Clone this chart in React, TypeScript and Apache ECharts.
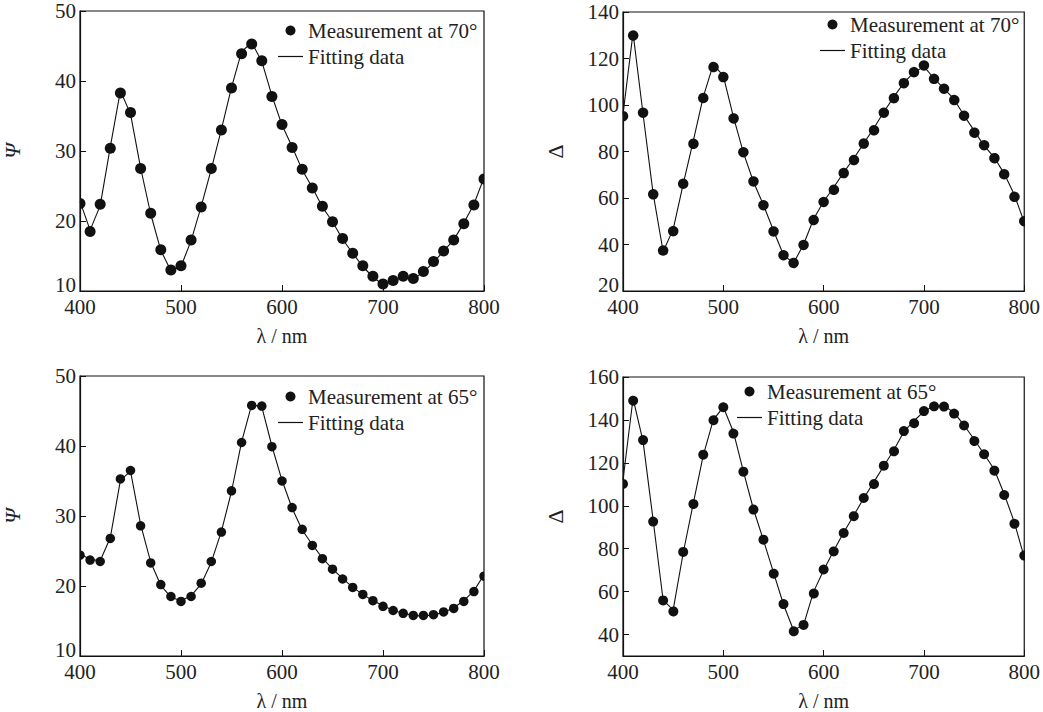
import React, { useEffect, useRef } from "react";
import * as echarts from "echarts";

const wavelengths = [
  400, 410, 420, 430, 440, 450, 460, 470, 480, 490, 500, 510, 520, 530, 540, 550, 560, 570, 580, 590, 600,
  610, 620, 630, 640, 650, 660, 670, 680, 690, 700, 710, 720, 730, 740, 750, 760, 770, 780, 790, 800,
];

const psi70Measured = [
  22.5, 18.5, 22.4, 30.4, 38.3, 35.5, 27.5, 21.1, 15.9, 13.0, 13.6, 17.3, 22.0, 27.5, 33.0, 39.0, 43.9, 45.3, 42.9, 37.8, 33.8,
  30.5, 27.4, 24.7, 22.1, 19.9, 17.5, 15.4, 13.6, 12.1, 11.0, 11.5, 12.1, 11.8, 12.8, 14.2, 15.7, 17.3, 19.6, 22.3, 26.0,
];
const psi70Fit = [
  22.8, 18.7, 22.2, 30.6, 38.6, 35.3, 27.6, 21.0, 15.8, 12.9, 13.5, 17.2, 22.1, 27.4, 33.1, 39.1, 44.2, 45.5, 42.8, 37.9, 33.7,
  30.6, 27.3, 24.8, 22.0, 19.9, 17.4, 15.4, 13.5, 12.0, 10.9, 11.4, 12.0, 11.7, 12.7, 14.1, 15.7, 17.3, 19.7, 22.4, 26.2,
];

const delta70Measured = [
  95.2, 130.4, 96.7, 62.1, 37.4, 46.1, 66.1, 84.0, 103.0, 117.0, 112.0, 94.9, 79.7, 67.5, 56.9, 46.0, 35.4, 32.4, 39.8, 50.9, 58.3,
  64.2, 70.7, 77.0, 83.4, 89.8, 96.7, 103.3, 109.4, 114.5, 117.0, 111.6, 107.0, 102.8, 95.4, 88.8, 82.7, 77.8, 70.2, 61.2, 50.0,
];
const delta70Fit = [
  96.0, 131.0, 96.0, 62.0, 37.0, 46.5, 66.0, 84.5, 103.5, 117.5, 112.5, 95.0, 79.5, 67.0, 57.0, 46.0, 35.5, 32.0, 40.0, 51.0, 58.5,
  64.5, 71.0, 77.0, 83.5, 90.0, 97.0, 103.5, 109.5, 114.0, 116.5, 111.5, 107.0, 102.5, 95.5, 89.0, 82.5, 77.5, 70.5, 61.5, 49.5,
];

const psi65Measured = [
  24.4, 23.7, 23.5, 26.8, 35.3, 36.5, 28.6, 23.3, 20.2, 18.5, 17.8, 18.5, 20.4, 23.5, 27.7, 33.6, 40.5, 45.8, 45.7, 39.9, 35.0,
  31.2, 28.1, 25.8, 23.9, 22.4, 21.0, 19.8, 18.8, 17.9, 17.1, 16.5, 16.1, 15.8, 15.8, 15.9, 16.3, 16.8, 17.8, 19.2, 21.4,
];
const psi65Fit = [
  24.6, 23.8, 23.6, 26.9, 35.1, 36.4, 28.8, 23.4, 20.1, 18.4, 17.9, 18.6, 20.3, 23.4, 27.8, 33.5, 40.6, 45.9, 45.6, 40.0, 35.1,
  31.1, 28.0, 25.9, 24.0, 22.4, 21.1, 19.8, 18.8, 17.9, 17.2, 16.5, 16.1, 15.8, 15.7, 15.9, 16.2, 16.9, 17.9, 19.3, 21.6,
];

const delta65Measured = [
  110.2, 149.5, 130.6, 93.0, 55.9, 51.4, 78.5, 101.5, 123.8, 140.5, 145.9, 134.0, 115.9, 98.6, 84.2, 69.1, 54.2, 42.2, 44.5, 59.8, 70.3,
  79.1, 87.3, 95.5, 103.6, 110.8, 118.7, 126.0, 134.8, 139.1, 144.1, 146.7, 146.2, 143.3, 137.4, 130.9, 124.0, 117.0, 105.0, 92.3, 76.8,
];
const delta65Fit = [
  112.0, 150.0, 130.0, 93.5, 56.0, 51.5, 78.0, 101.0, 123.5, 140.0, 146.0, 134.5, 116.0, 98.5, 84.0, 69.0, 54.0, 42.0, 44.5, 60.0, 70.0,
  79.0, 87.5, 95.5, 103.5, 111.0, 118.5, 126.0, 134.5, 139.5, 144.0, 146.5, 146.5, 143.5, 137.5, 131.0, 124.0, 117.0, 105.5, 92.5, 76.0,
];

const xTickValues = [400, 500, 600, 700, 800];
const delta65TickValues = [40, 60, 80, 100, 120, 140, 160];

const FONT = "'Liberation Serif', 'DejaVu Serif', serif";
const TEXT = "#222";
const INK = "#111";
const LABEL_SIZE = 21;

const pairs = (ys: number[]) => wavelengths.map((w, i) => [w, ys[i]]);

type Panel = {
  grid: { left: number; top: number; width: number; height: number };
  yName: string;
  yItalic: boolean;
  yMin: number;
  yMax: number;
  yInterval: number;
  yCustom?: number[];
  yLowLabel: number;
  measured: number[];
  fit: number[];
  label: string;
  symbolSize: number;
  legend: { left: number; top: number };
};

const panels: Panel[] = [
  {
    grid: { left: 80, top: 11, width: 404, height: 280 },
    yName: "Ψ", yItalic: true, yMin: 10, yMax: 50, yInterval: 10, yLowLabel: 10,
    measured: psi70Measured, fit: psi70Fit, label: "Measurement at 70°", symbolSize: 11,
    legend: { left: 278, top: 20 },
  },
  {
    grid: { left: 623, top: 12, width: 403, height: 279 },
    yName: "Δ", yItalic: false, yMin: 20, yMax: 140, yInterval: 20, yLowLabel: 20,
    measured: delta70Measured, fit: delta70Fit, label: "Measurement at 70°", symbolSize: 10.5,
    legend: { left: 820, top: 14 },
  },
  {
    grid: { left: 80, top: 376, width: 404, height: 280 },
    yName: "Ψ", yItalic: true, yMin: 10, yMax: 50, yInterval: 10, yLowLabel: 10,
    measured: psi65Measured, fit: psi65Fit, label: "Measurement at 65°", symbolSize: 9.5,
    legend: { left: 278, top: 386 },
  },
  {
    grid: { left: 623, top: 377, width: 403, height: 279 },
    yName: "Δ", yItalic: false, yMin: 30, yMax: 160, yInterval: 10, yCustom: delta65TickValues, yLowLabel: -1,
    measured: delta65Measured, fit: delta65Fit, label: "Measurement at 65°", symbolSize: 10,
    legend: { left: 737, top: 381 },
  },
];

const LINE_ICON = "path://M0,0H25V1.2H0Z";

export default function App() {
  const ref = useRef<HTMLDivElement>(null);
  useEffect(() => {
    if (!ref.current) return;
    const chart = echarts.init(ref.current, undefined, { renderer: "svg" });
    const option: any = {
      animation: false,
      backgroundColor: "#fff",
      textStyle: { fontFamily: FONT, color: TEXT },
      grid: panels.map((p) => ({
        ...p.grid,
        show: true,
        borderColor: INK,
        borderWidth: 1.2,
        backgroundColor: "transparent",
        containLabel: false,
      })),
      xAxis: panels.map((_, i) => ({
        type: "value",
        gridIndex: i,
        min: 400,
        max: 800,
        interval: 100,
        name: "λ / nm",
        nameLocation: "middle",
        nameGap: 35,
        nameTextStyle: { fontFamily: FONT, fontSize: 20, color: TEXT },
        axisLine: { show: true, lineStyle: { color: INK, width: 1.2 } },
        axisTick: { show: true, inside: true, length: 6, lineStyle: { color: INK, width: 1 }, customValues: xTickValues },
        axisLabel: { fontFamily: FONT, fontSize: LABEL_SIZE, color: TEXT, margin: 5, customValues: xTickValues },
        splitLine: { show: false },
      })),
      yAxis: panels.map((p, i) => ({
        type: "value",
        gridIndex: i,
        min: p.yMin,
        max: p.yMax,
        interval: p.yInterval,
        name: p.yName,
        nameLocation: "middle",
        nameRotate: 90,
        nameGap: 57,
        nameTextStyle: {
          fontFamily: FONT,
          fontSize: 22,
          color: TEXT,
          fontStyle: p.yItalic ? "italic" : "normal",
        },
        axisLine: { show: true, lineStyle: { color: INK, width: 1.2 } },
        axisTick: {
          show: true,
          inside: true,
          length: 6,
          lineStyle: { color: INK, width: 1 },
          ...(p.yCustom ? { customValues: p.yCustom } : {}),
        },
        axisLabel: {
          fontFamily: FONT,
          fontSize: LABEL_SIZE,
          color: TEXT,
          margin: 4,
          formatter: (v: number) => (v === p.yLowLabel ? `{low|${v}}` : `${v}`),
          rich: {
            low: { fontFamily: FONT, fontSize: LABEL_SIZE, color: TEXT, padding: [0, 0, 12, 0] },
          },
          ...(p.yCustom ? { customValues: p.yCustom } : {}),
        },
        splitLine: { show: false },
      })),
      legend: panels.map((p) => ({
        left: p.legend.left,
        top: p.legend.top,
        orient: "vertical",
        itemWidth: 25,
        itemHeight: 10,
        itemGap: 5,
        padding: 0,
        selectedMode: false,
        textStyle: { fontFamily: FONT, fontSize: LABEL_SIZE, color: TEXT, lineHeight: 21 },
        data: [
          { name: p.label, icon: "circle", itemStyle: { color: INK } },
          { name: "Fitting data", icon: LINE_ICON, itemStyle: { color: INK } },
        ],
      })),
      series: panels.flatMap((p, i) => [
        {
          name: "Fitting data",
          type: "line",
          xAxisIndex: i,
          yAxisIndex: i,
          data: pairs(p.fit),
          symbol: "none",
          showSymbol: false,
          lineStyle: { color: INK, width: 1.1 },
          itemStyle: { color: INK },
          z: 2,
        },
        {
          name: p.label,
          type: "custom",
          xAxisIndex: i,
          yAxisIndex: i,
          data: pairs(p.measured),
          encode: { x: 0, y: 1 },
          clip: true,
          itemStyle: { color: INK },
          renderItem: (_params: any, api: any) => {
            const pt = api.coord([api.value(0), api.value(1)]);
            return {
              type: "circle",
              shape: { cx: pt[0], cy: pt[1], r: p.symbolSize / 2 },
              style: { fill: INK },
            };
          },
          z: 3,
        },
      ]),
    };
    chart.setOption(option);
    return () => chart.dispose();
  }, []);
  return (
    <div
      ref={ref}
      style={{ position: "fixed", left: 0, top: 0, width: 1043, height: 712, background: "#fff" }}
    />
  );
}
